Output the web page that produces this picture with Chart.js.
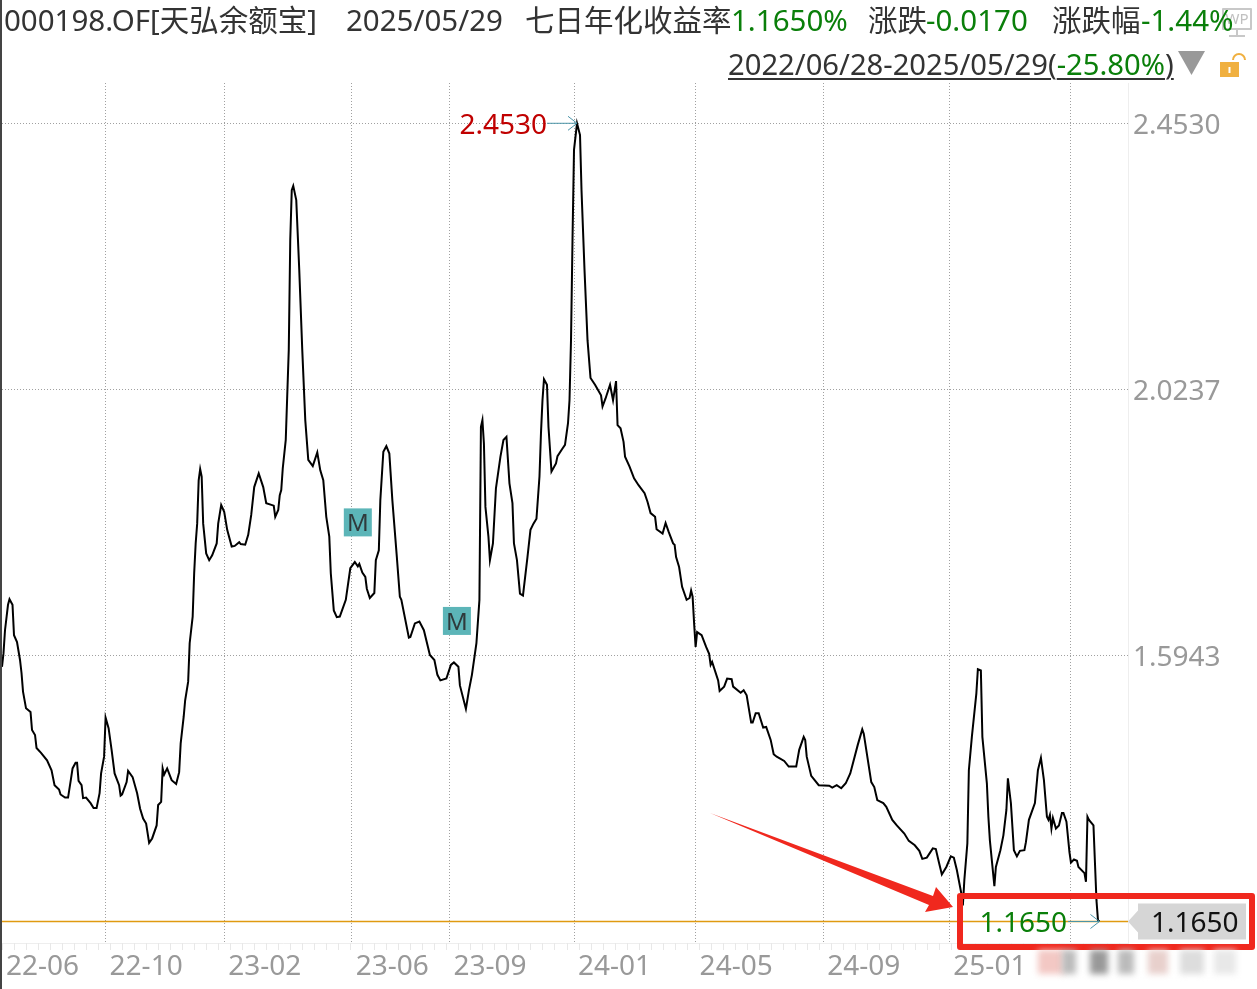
<!DOCTYPE html>
<html>
<head>
<meta charset="utf-8">
<title>000198.OF</title>
<script src="https://cdn.jsdelivr.net/npm/chart.js@4"></script>
<style>
  html, body { margin: 0; padding: 0; background: #fff; width: 1257px; height: 989px; overflow: hidden; }
  canvas { position: absolute; left: 0; top: 0; }
  .t { position: absolute; font: 29.5px "Noto Sans", "Noto Sans CJK SC", sans-serif; line-height: 40px; color: #333; white-space: pre; }
  .g { color: #0a7f0a; }
  .u { font-size: 29.2px; text-decoration: underline; text-decoration-thickness: 2px; text-underline-offset: 3px; }
</style>
</head>
<body>
<canvas id="chart" width="1257" height="989"></canvas>
<div class="t" style="left:4px;top:0">000198.OF[天弘余额宝]</div>
<div class="t" style="left:346px;top:0">2025/05/29</div>
<div class="t" style="left:525px;top:0">七日年化收益率</div>
<div class="t g" style="left:731px;top:0">1.1650%</div>
<div class="t" style="left:868px;top:0">涨跌</div>
<div class="t g" style="left:926px;top:0">-0.0170</div>
<div class="t" style="left:1052px;top:0">涨跌幅</div>
<div class="t g" style="left:1141px;top:0">-1.44%</div>
<div class="t u" style="left:728px;top:44px">2022/06/28-2025/05/29(<span class="g">-25.80%</span>)</div>
<script>
// trading day index since 2022/06/28
const days = [
  0, 1, 2, 4, 5, 7, 8, 10, 12, 13, 14, 16, 19, 20, 22, 23, 26, 30, 33, 35,
  38, 39, 42, 44, 46, 47, 49, 50, 51, 53, 54, 56, 59, 61, 63, 65, 66, 68, 69, 71,
  73, 75, 78, 79, 80, 83, 84, 87, 90, 92, 94, 96, 98, 100, 103, 104, 106, 107, 108, 110,
  113, 116, 118, 119, 121, 122, 124, 125, 127, 128, 129, 130, 131, 132, 133, 134, 136, 138, 140, 143,
  144, 146, 148, 150, 153, 155, 158, 159, 162, 164, 166, 168, 171, 174, 176, 181, 182, 184, 185, 186,
  187, 189, 191, 192, 193, 194, 196, 198, 200, 202, 204, 207, 210, 212, 214, 216, 218, 219, 221, 223,
  225, 229, 232, 235, 237, 238, 240, 242, 243, 245, 248, 249, 251, 252, 254, 256, 258, 260, 263, 265,
  266, 271, 272, 275, 278, 281, 285, 288, 290, 292, 296, 299, 301, 304, 305, 309, 311, 313, 316, 318,
  319, 320, 321, 322, 324, 325, 327, 329, 332, 334, 336, 338, 340, 341, 343, 345, 347, 350, 352, 354,
  356, 358, 359, 360, 361, 363, 364, 366, 369, 370, 373, 375, 377, 378, 379, 380, 381, 383, 385, 386,
  388, 390, 392, 395, 399, 400, 402, 405, 407, 409, 410, 412, 414, 415, 418, 421, 424, 428, 430, 432,
  435, 436, 440, 442, 444, 447, 448, 449, 451, 453, 456, 458, 459, 460, 461, 462, 463, 466, 469, 471,
  472, 473, 477, 478, 481, 483, 486, 487, 492, 494, 496, 499, 500, 502, 504, 507, 509, 512, 514, 516,
  521, 524, 529, 531, 534, 535, 536, 539, 544, 551, 553, 556, 559, 562, 565, 570, 573, 574, 579, 581,
  583, 587, 589, 593, 596, 601, 604, 608, 611, 613, 616, 620, 622, 624, 626, 629, 632, 634, 636, 639,
  640, 641, 643, 644, 646, 649, 650, 652, 653, 656, 657, 658, 661, 662, 665, 667, 669, 670, 672, 674,
  676, 678, 681, 682, 684, 688, 690, 692, 694, 696, 697, 698, 699, 700, 702, 704, 706, 707, 709, 711,
  712, 714, 716, 717, 721, 722, 723, 724, 727, 728, 729, 730, 731
]
// 七日年化收益率
const yields = [
  1.576, 1.598, 1.635, 1.676, 1.685, 1.676, 1.627, 1.616, 1.587, 1.566, 1.536, 1.509, 1.503, 1.474, 1.466, 1.445, 1.437, 1.425, 1.409, 1.385,
  1.378, 1.370, 1.365, 1.365, 1.396, 1.412, 1.421, 1.421, 1.392, 1.385, 1.364, 1.365, 1.356, 1.348, 1.348, 1.372, 1.404, 1.431, 1.494, 1.477,
  1.442, 1.404, 1.385, 1.368, 1.370, 1.390, 1.408, 1.398, 1.372, 1.347, 1.331, 1.323, 1.292, 1.299, 1.320, 1.353, 1.358, 1.412, 1.402, 1.412,
  1.393, 1.387, 1.406, 1.452, 1.495, 1.522, 1.552, 1.614, 1.657, 1.727, 1.775, 1.807, 1.877, 1.895, 1.883, 1.807, 1.759, 1.748, 1.756, 1.775,
  1.807, 1.837, 1.826, 1.797, 1.770, 1.771, 1.777, 1.774, 1.773, 1.789, 1.821, 1.866, 1.888, 1.866, 1.840, 1.836, 1.818, 1.829, 1.853, 1.861,
  1.896, 1.942, 2.087, 2.265, 2.345, 2.352, 2.329, 2.216, 2.087, 1.974, 1.910, 1.900, 1.922, 1.893, 1.877, 1.818, 1.786, 1.727, 1.667, 1.656,
  1.657, 1.684, 1.735, 1.745, 1.738, 1.742, 1.728, 1.721, 1.702, 1.687, 1.695, 1.748, 1.764, 1.845, 1.923, 1.932, 1.920, 1.845, 1.753, 1.689,
  1.684, 1.623, 1.624, 1.646, 1.649, 1.635, 1.595, 1.587, 1.563, 1.554, 1.557, 1.579, 1.583, 1.576, 1.546, 1.508, 1.538, 1.563, 1.614, 1.684,
  1.963, 1.974, 1.936, 1.834, 1.786, 1.748, 1.775, 1.864, 1.915, 1.942, 1.947, 1.872, 1.840, 1.775, 1.748, 1.694, 1.691, 1.753, 1.797, 1.807,
  1.815, 1.883, 1.953, 2.006, 2.040, 2.031, 1.963, 1.891, 1.904, 1.916, 1.927, 1.934, 1.969, 2.006, 2.103, 2.265, 2.410, 2.453, 2.434, 2.345,
  2.216, 2.103, 2.042, 2.031, 2.014, 1.996, 2.009, 2.031, 2.006, 2.037, 1.966, 1.961, 1.939, 1.915, 1.899, 1.880, 1.869, 1.856, 1.842, 1.824,
  1.818, 1.798, 1.791, 1.808, 1.794, 1.775, 1.773, 1.753, 1.737, 1.705, 1.684, 1.687, 1.699, 1.689, 1.646, 1.608, 1.632, 1.627, 1.608, 1.597,
  1.579, 1.584, 1.554, 1.537, 1.544, 1.557, 1.556, 1.544, 1.534, 1.538, 1.530, 1.486, 1.486, 1.501, 1.501, 1.478, 1.479, 1.458, 1.435, 1.431,
  1.424, 1.415, 1.415, 1.442, 1.463, 1.458, 1.431, 1.400, 1.385, 1.384, 1.381, 1.385, 1.380, 1.388, 1.404, 1.450, 1.475, 1.468, 1.390, 1.382,
  1.361, 1.356, 1.350, 1.329, 1.320, 1.307, 1.295, 1.288, 1.279, 1.266, 1.268, 1.283, 1.282, 1.261, 1.241, 1.253, 1.270, 1.268, 1.248, 1.210,
  1.191, 1.232, 1.291, 1.409, 1.463, 1.533, 1.572, 1.570, 1.463, 1.388, 1.334, 1.296, 1.222, 1.253, 1.280, 1.304, 1.345, 1.396, 1.356, 1.280,
  1.270, 1.279, 1.280, 1.293, 1.329, 1.356, 1.409, 1.429, 1.393, 1.334, 1.329, 1.337, 1.315, 1.332, 1.315, 1.320, 1.340, 1.340, 1.326, 1.277,
  1.260, 1.265, 1.263, 1.253, 1.243, 1.229, 1.334, 1.329, 1.320, 1.259, 1.199, 1.167, 1.165
]

const monthDays = [0, 69, 148, 233, 298, 381, 462, 547, 631, 712]
const monthLabels = ['22-06', '22-10', '23-02', '23-06', '23-09', '24-01', '24-05', '24-09', '25-01', '']
const yTicks = [2.4530, 2.0237, 1.5943, 1.1650]

const peakDay = 383
const peakValue = 2.4530
const lastDay = 731
const lastValue = 1.1650
const markDays = [237, 303]
const markValues = [1.809, 1.650]

const FONT = '"Noto Sans", "Noto Sans CJK SC", sans-serif'

// small arrow used for the high and the last value
const pointer = (ctx, x1, x2, y) => {
  ctx.strokeStyle = '#4a94a8'
  ctx.lineWidth = 1
  ctx.beginPath()
  ctx.moveTo(x1, y)
  ctx.lineTo(x2, y)
  ctx.moveTo(x2 - 9, y - 7)
  ctx.lineTo(x2, y)
  ctx.lineTo(x2 - 9, y + 7)
  ctx.stroke()
}

const overlay = {
  id: 'overlay',
  afterDatasetsDraw(chart) {
    const { ctx, scales: { x, y }, chartArea } = chart
    ctx.save()
    // left frame
    ctx.fillStyle = '#444'
    ctx.fillRect(0, 0, 2, 989)
    // ruler under the plot
    ctx.strokeStyle = '#e8e8e8'
    ctx.lineWidth = 1
    ctx.beginPath()
    for (let d = 0; d <= 750; d += 8) {
      const px = Math.round(x.getPixelForValue(d)) + 0.5
      ctx.moveTo(px, chartArea.bottom)
      ctx.lineTo(px, chartArea.bottom + 7)
    }
    ctx.stroke()

    ctx.textBaseline = 'middle'
    ctx.font = '28px ' + FONT
    // high
    const peakY = y.getPixelForValue(peakValue)
    ctx.fillStyle = '#c00000'
    ctx.textAlign = 'right'
    ctx.fillText(peakValue.toFixed(4), 547, peakY + 2.5)
    pointer(ctx, 547, x.getPixelForValue(peakDay), peakY)
    // last
    const lastY = y.getPixelForValue(lastValue)
    ctx.fillStyle = '#0a7f0a'
    ctx.textAlign = 'right'
    ctx.fillText(lastValue.toFixed(4), 1067, lastY + 2.5)
    pointer(ctx, 1068, x.getPixelForValue(lastDay), lastY)
    // M marks
    ctx.textAlign = 'center'
    markDays.forEach((d, i) => {
      const mx = x.getPixelForValue(d)
      const my = y.getPixelForValue(markValues[i])
      ctx.fillStyle = '#5cb5b8'
      ctx.fillRect(mx - 14, my - 14, 28, 28)
      ctx.fillStyle = '#2f3a3c'
      ctx.font = '24px ' + FONT
      ctx.fillText('M', mx, my + 2)
    })
    // last value tag on the axis
    ctx.fillStyle = '#d6d6d6'
    ctx.beginPath()
    ctx.moveTo(1128, lastY)
    ctx.lineTo(1138, lastY - 11)
    ctx.lineTo(1138, lastY - 18)
    ctx.lineTo(1246, lastY - 18)
    ctx.lineTo(1246, lastY + 18)
    ctx.lineTo(1138, lastY + 18)
    ctx.lineTo(1138, lastY + 11)
    ctx.closePath()
    ctx.fill()
    ctx.fillStyle = '#111'
    ctx.textAlign = 'left'
    ctx.font = '28px ' + FONT
    ctx.fillText(lastValue.toFixed(4), 1151, lastY + 2.5)

    // red hand drawn box and arrow
    ctx.strokeStyle = '#f0281e'
    ctx.lineWidth = 6
    ctx.lineJoin = 'round'
    ctx.strokeRect(960, 896, 292, 51)
    ctx.fillStyle = '#f0281e'
    ctx.beginPath()
    ctx.moveTo(710, 813)
    ctx.lineTo(933, 896)
    ctx.lineTo(936, 887)
    ctx.lineTo(953, 907)
    ctx.lineTo(925, 912)
    ctx.lineTo(929, 905)
    ctx.closePath()
    ctx.fill()

    // header icons
    ctx.fillStyle = '#999'
    ctx.beginPath()
    ctx.moveTo(1178, 51)
    ctx.lineTo(1205, 51)
    ctx.lineTo(1191.5, 75)
    ctx.closePath()
    ctx.fill()
    ctx.fillStyle = '#f0b040'
    ctx.fillRect(1220, 62, 19, 15)
    ctx.strokeStyle = '#f0b040'
    ctx.lineWidth = 2
    ctx.beginPath()
    ctx.arc(1239, 60, 6, Math.PI, 0)
    ctx.stroke()
    ctx.fillStyle = '#fff'
    ctx.fillRect(1228.5, 67, 2, 6)
    ctx.strokeStyle = '#c8c8c8'
    ctx.lineWidth = 2
    ctx.strokeRect(1223, 9, 28, 20)
    ctx.beginPath()
    ctx.moveTo(1237, 29)
    ctx.lineTo(1237, 35)
    ctx.moveTo(1229, 36)
    ctx.lineTo(1245, 36)
    ctx.stroke()
    ctx.fillStyle = '#c0c0c0'
    ctx.font = '15px ' + FONT
    ctx.textAlign = 'center'
    ctx.fillText('WP', 1237, 20)

    // smudged watermark
    ctx.filter = 'blur(3px)'
    ;[[1038, '#f3c8c4', 26], [1062, '#bbb', 14], [1090, '#999', 18], [1118, '#bbb', 16], [1148, '#e8d0cc', 20], [1180, '#ddd', 24], [1214, '#e8e8e8', 22]].forEach(([bx, c, w]) => {
      ctx.fillStyle = c
      ctx.fillRect(bx, 950, w, 24)
    })
    ctx.restore()
  },
}

new Chart(document.getElementById('chart'), {
  type: 'line',
  data: {
    datasets: [
      {
        data: days.map((d, i) => ({ x: d, y: yields[i] })),
        borderColor: '#000',
        borderWidth: 2,
        pointRadius: 0,
        tension: 0,
      },
      {
        data: [{ x: 0, y: lastValue }, { x: 750, y: lastValue }],
        borderColor: '#e09a10',
        borderWidth: 1.6,
        pointRadius: 0,
      },
    ],
  },
  options: {
    responsive: false,
    animation: false,
    devicePixelRatio: 1,
    layout: { padding: { left: 2, top: 83, right: 0, bottom: 0 } },
    plugins: { legend: { display: false }, tooltip: { enabled: false } },
    scales: {
      x: {
        type: 'linear',
        min: 0,
        max: 750,
        afterBuildTicks: (scale) => { scale.ticks = monthDays.map((value) => ({ value })) },
        afterFit: (scale) => {
          scale.height = 46
          scale.paddingLeft = 0
          scale.paddingRight = 0
        },
        grid: {
          drawTicks: false,
          color: (c) => (c.tick && c.tick.value === 0 ? 'rgba(0,0,0,0)' : '#a0a0a0'),
        },
        border: { color: '#eeeeee', dash: [1, 2] },
        ticks: {
          autoSkip: false,
          maxRotation: 0,
          align: 'start',
          labelOffset: 4,
          padding: 7,
          color: '#999',
          font: { family: FONT, size: 28 },
          callback: (v) => monthLabels[monthDays.indexOf(v)],
        },
      },
      y: {
        position: 'right',
        min: 1.1303,
        max: 2.518,
        afterBuildTicks: (scale) => { scale.ticks = yTicks.map((value) => ({ value })) },
        afterFit: (scale) => {
          scale.width = 129
          scale.paddingTop = 0
          scale.paddingBottom = 0
        },
        grid: {
          drawTicks: false,
          color: (c) => (c.tick && c.tick.value === 1.165 ? 'rgba(0,0,0,0)' : '#a0a0a0'),
        },
        border: { color: '#eeeeee', dash: [1, 2] },
        ticks: {
          padding: 5,
          labelOffset: 2.5,
          color: '#999',
          font: { family: FONT, size: 28 },
          callback: (v) => (v === 1.165 ? '' : v.toFixed(4)),
        },
      },
    },
  },
  plugins: [overlay],
})
</script>
</body>
</html>
